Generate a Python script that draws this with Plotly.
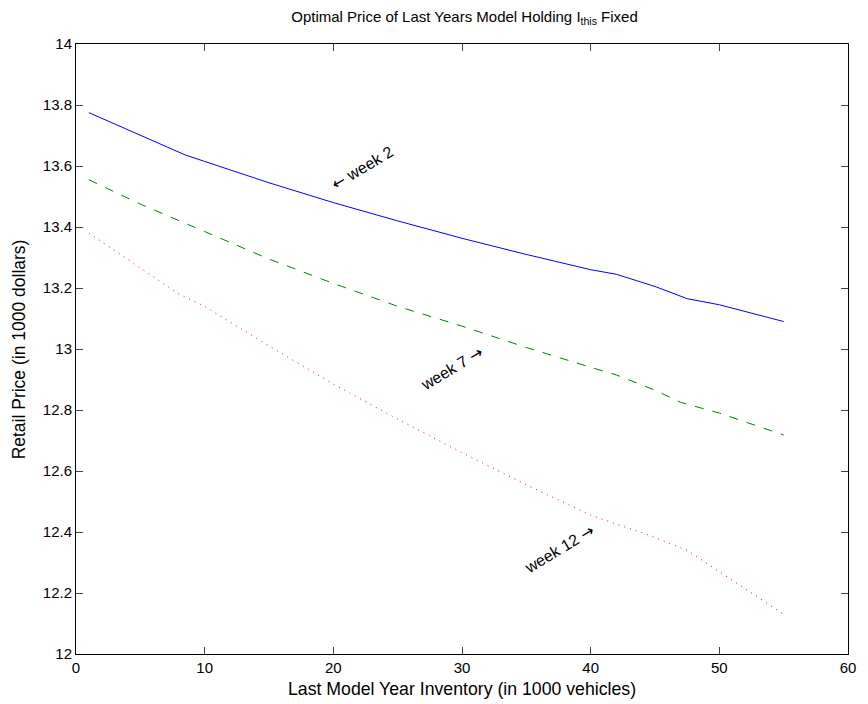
import plotly.graph_objects as go

# ---- data ----
week2_x = [1, 3, 5, 8.5, 10, 15, 20, 25, 30, 35, 40, 42, 45, 47.5, 50, 55]
week2_y = [13.775, 13.738, 13.702, 13.636, 13.615, 13.545, 13.48, 13.42, 13.363, 13.31, 13.26, 13.245, 13.205, 13.165, 13.145, 13.09]

week7_x = [1, 5, 10, 15, 20, 25, 30, 35, 40, 42, 45, 47, 50, 55]
week7_y = [13.555, 13.475, 13.385, 13.295, 13.215, 13.14, 13.075, 13.005, 12.94, 12.915, 12.865, 12.825, 12.79, 12.718]

week12_x = [1, 5, 8, 10, 15, 20, 25, 30, 35, 40, 44.5, 47.5, 50, 55]
week12_y = [13.38, 13.266, 13.18, 13.14, 13.01, 12.885, 12.77, 12.66, 12.555, 12.455, 12.39, 12.34, 12.27, 12.13]

x_ticks = [0, 10, 20, 30, 40, 50, 60]
y_ticks = [12, 12.2, 12.4, 12.6, 12.8, 13, 13.2, 13.4, 13.6, 13.8, 14]
y_ticktext = ["12", "12.2", "12.4", "12.6", "12.8", "13", "13.2", "13.4", "13.6", "13.8", "14"]

ARROW = '<span style="font-family:DejaVu Sans">{}</span>'
labels = [ARROW.format("\u2190") + " week 2",
          "week 7 " + ARROW.format("\u2192"),
          "week 12 " + ARROW.format("\u2192")]
label_x = [22.3, 29.2, 37.5]
label_y = [13.595, 12.936, 12.344]

x_title = "Last Model Year Inventory (in 1000 vehicles)"
y_title = "Retail Price (in 1000 dollars)"

FONT = "Liberation Sans, Arial, Helvetica, sans-serif"
L, R, T, B = 76, 15, 44, 50
W, H = 868, 704
PW, PH = W - L - R, H - T - B

fig = go.Figure()
fig.add_trace(go.Scatter(x=week2_x, y=week2_y, mode="lines",
                         line=dict(color="rgb(0,0,255)", width=1), showlegend=False))
fig.add_trace(go.Scatter(x=week7_x, y=week7_y, mode="lines",
                         line=dict(color="rgb(0,128,0)", width=1, dash="9px,9px"), showlegend=False))
fig.add_trace(go.Scatter(x=week12_x, y=week12_y, mode="lines",
                         line=dict(color="rgb(255,0,0)", width=1, dash="1px,5px"), showlegend=False))

for t, xx, yy in zip(labels, label_x, label_y):
    fig.add_annotation(x=xx, y=yy, text=t, showarrow=False, textangle=-31,
                       font=dict(family=FONT, size=16, color="black"))

# axis titles
fig.add_annotation(xref="paper", yref="paper", x=0.5, y=-(689 - (H - B)) / PH,
                   xanchor="center", yanchor="middle", text=x_title, showarrow=False,
                   font=dict(family=FONT, size=17.7, color="black"))
fig.add_annotation(xref="paper", yref="paper", x=-(L - 19) / PW, y=0.5,
                   xanchor="center", yanchor="middle", text=y_title, showarrow=False,
                   textangle=-90, font=dict(family=FONT, size=17.5, color="black"))

fig.update_layout(
    width=W, height=H,
    margin=dict(l=L, r=R, t=T, b=B),
    paper_bgcolor="white", plot_bgcolor="white",
    font=dict(family=FONT, size=15, color="black"),
    title=dict(text="Optimal Price of Last Years Model Holding I<sub>this</sub> Fixed",
               x=(L + W - R) / 2 / W, xanchor="center",
               y=1 - 17 / H, yanchor="middle", yref="container",
               font=dict(family=FONT, size=15, color="black")),
)
fig.update_xaxes(range=[0, 60], tickvals=x_ticks, ticks="inside", ticklen=7,
                 showline=True, linecolor="black", linewidth=1, mirror="ticks",
                 showgrid=False, zeroline=False,
                 tickfont=dict(family=FONT, size=15))
fig.update_yaxes(range=[12, 14], tickvals=y_ticks, ticktext=y_ticktext, ticks="inside", ticklen=7,
                 showline=True, linecolor="black", linewidth=1, mirror="ticks",
                 showgrid=False, zeroline=False,
                 tickfont=dict(family=FONT, size=15))

fig.write_html("out.html")
